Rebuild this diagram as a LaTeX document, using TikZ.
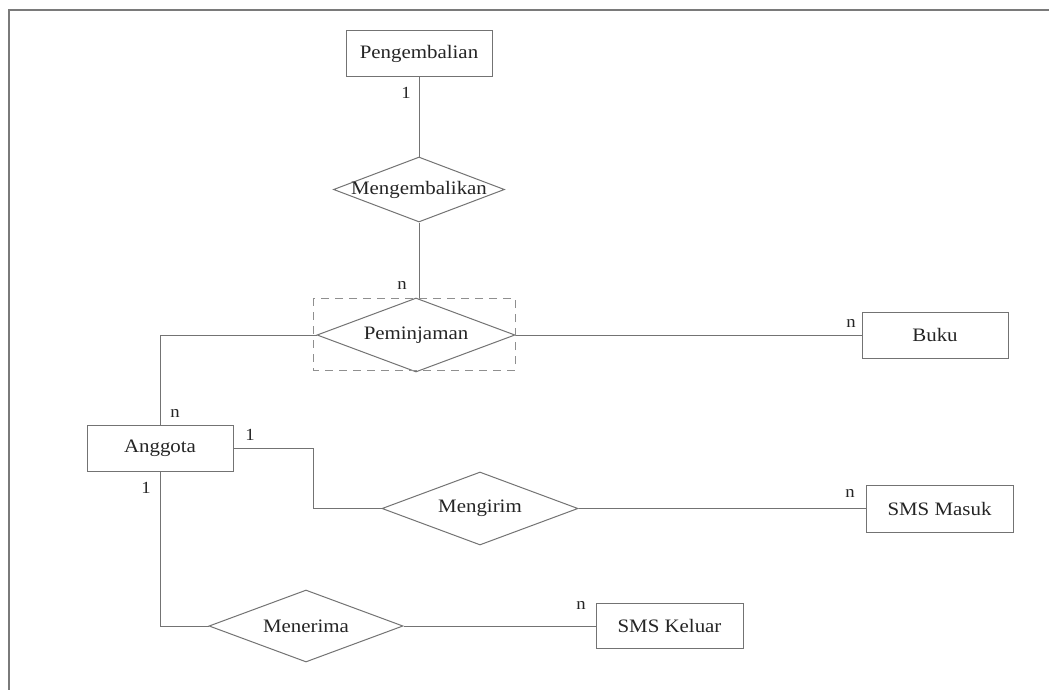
\documentclass[tikz,border=0pt]{standalone}
\usepackage{fontspec}
\setmainfont{Liberation Serif}[FakeStretch=1.1]
\usetikzlibrary{shapes.geometric}
\definecolor{linecol}{HTML}{737373}
\definecolor{txtcol}{HTML}{252525}
\definecolor{framecol}{HTML}{7A7A7A}
\begin{document}
\begin{tikzpicture}[x=1pt,y=-1pt,
  entity/.style={draw=linecol, line width=1pt, rectangle, inner sep=0pt, text=txtcol,
     font=\fontsize{19}{21}\selectfont},
  rel/.style={draw=linecol, line width=1pt, diamond, inner sep=0pt, text=txtcol,
     font=\fontsize{19}{21}\selectfont},
  conn/.style={draw=linecol, line width=1pt},
  card/.style={text=txtcol, inner sep=0pt, font=\fontsize{17}{18}\selectfont},
  weakbox/.style={draw=linecol!80, line width=1pt, dash pattern=on 8pt off 6pt}
]
\useasboundingbox (0,0) rectangle (1049,690);
\fill[white] (0,0) rectangle (1049,690);
\draw[framecol, line width=1.2pt] (9,690) -- (9,10) -- (1049,10);

% entities
\node[entity, minimum width=146pt, minimum height=46pt] (pengembalian) at (419,54) {Pengembalian};
\node[entity, minimum width=146pt, minimum height=46pt] (anggota) at (160,448) {Anggota};
\node[entity, minimum width=146pt, minimum height=46pt] (buku) at (935,335) {Buku};
\node[entity, minimum width=147pt, minimum height=47pt] (smsmasuk) at (939.5,508.5) {SMS Masuk};
\node[entity, minimum width=147pt, minimum height=45pt] (smskeluar) at (669.5,626) {SMS Keluar};

% relationships
\node[rel, minimum width=171pt, minimum height=65pt] (mengembalikan) at (419,189.5) {\makebox[0pt]{Mengembalikan}};
\node[rel, minimum width=198pt, minimum height=74pt] (peminjaman) at (416,335) {\makebox[0pt]{Peminjaman}};
\node[rel, minimum width=196pt, minimum height=73pt] (mengirim) at (480,508.5) {\makebox[0pt]{Mengirim}};
\node[rel, minimum width=194pt, minimum height=72pt] (menerima) at (306,626) {\makebox[0pt]{Menerima}};

% dashed aggregation box
\draw[weakbox] (313,298) rectangle (515,370);

% connectors
\coordinate (bend1) at (313,448);
\draw[conn] (pengembalian.south) -- (mengembalikan.north);
\draw[conn] (mengembalikan.south) -- (mengembalikan.south |- peminjaman.north);
\draw[conn] (peminjaman.east) -- (buku.west);
\draw[conn] (peminjaman.west) -| (anggota.north);
\draw[conn] (anggota.east) -- (bend1) |- (mengirim.west);
\draw[conn] (mengirim.east) -- (smsmasuk.west);
\draw[conn] (anggota.south) |- (menerima.west);
\draw[conn] (menerima.east) -- (smskeluar.west);

% cardinalities
\node[card] (c1) at (406,93) {1};
\node[card] (c2) at (402,285) {n};
\node[card] (c3) at (851,323) {n};
\node[card] (c4) at (175,413) {n};
\node[card] (c5) at (250,435) {1};
\node[card] (c6) at (146,488) {1};
\node[card] (c7) at (850,493) {n};
\node[card] (c8) at (581,605) {n};
\end{tikzpicture}
\end{document}
